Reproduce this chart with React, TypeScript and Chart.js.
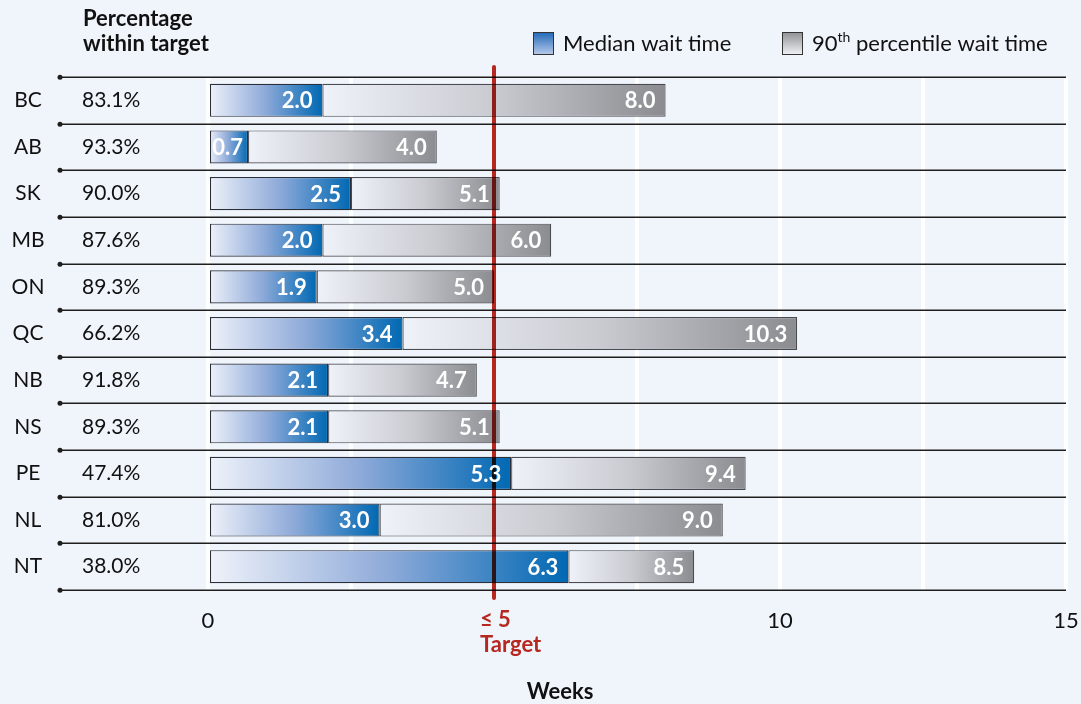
import React, { useEffect, useRef } from 'react';
import { Chart, registerables } from 'chart.js';

Chart.register(...registerables);

const provinces = ['BC', 'AB', 'SK', 'MB', 'ON', 'QC', 'NB', 'NS', 'PE', 'NL', 'NT'];
const pctWithinTarget = ['83.1%', '93.3%', '90.0%', '87.6%', '89.3%', '66.2%', '91.8%', '89.3%', '47.4%', '81.0%', '38.0%'];
const medianWait = [2.0, 0.7, 2.5, 2.0, 1.9, 3.4, 2.1, 2.1, 5.3, 3.0, 6.3];
const p90Wait = [8.0, 4.0, 5.1, 6.0, 5.0, 10.3, 4.7, 5.1, 9.4, 9.0, 8.5];
const xTickLabels = ['0', '10', '15'];
const targetWeeks = 5;
const legendLabels = ['Median wait time', '90', 'th', ' percentile wait time'];

const FONT = 'Lato, "Open Sans", sans-serif';
const BG = '#f0f4fb';
const FS = 22;

function blueGradient(c: CanvasRenderingContext2D, x0: number, x1: number) {
  const g = c.createLinearGradient(x0, 0, x1, 0);
  g.addColorStop(0, '#f0f3fa');
  g.addColorStop(0.5, '#8eaad9');
  g.addColorStop(1, '#0068b3');
  return g;
}
function grayGradient(c: CanvasRenderingContext2D, x0: number, x1: number) {
  const g = c.createLinearGradient(x0, 0, x1, 0);
  g.addColorStop(0, '#eff2f9');
  g.addColorStop(0.5, '#c9cbd1');
  g.addColorStop(1, '#8b8c90');
  return g;
}

const decorPlugin = {
  id: 'decor',
  beforeDatasetsDraw(chart: any) {
    const c: CanvasRenderingContext2D = chart.ctx;
    const { chartArea, scales } = chart;
    const y = scales.y;
    const n = provinces.length;
    const rowH = (chartArea.bottom - chartArea.top) / n;
    c.save();
    // row separators
    c.strokeStyle = '#1e1e1e';
    c.lineWidth = 1.5;
    c.fillStyle = '#1e1e1e';
    for (let i = 0; i <= n; i++) {
      const yy = Math.round(chartArea.top + i * rowH) + 0.25;
      c.beginPath();
      c.moveTo(60, yy);
      c.lineTo(chartArea.right, yy);
      c.stroke();
      c.beginPath();
      c.arc(60, yy, 2.5, 0, Math.PI * 2);
      c.fill();
    }
    // left labels
    c.fillStyle = '#111';
    c.font = `21px ${FONT}`;
    c.textBaseline = 'middle';
    provinces.forEach((p, i) => {
      const yy = y.getPixelForValue(i);
      c.textAlign = 'center';
      c.fillText(p, 28, yy);
      c.textAlign = 'left';
      c.fillText(pctWithinTarget[i], 82, yy);
    });
    // header
    c.font = `bold ${FS}px ${FONT}`;
    c.textAlign = 'left';
    c.fillText('Percentage', 83, 19);
    c.fillText('within target', 83, 44);
    // legend
    const sq = (x: number, top: number, kind: 'b' | 'g') => {
      const g = c.createLinearGradient(0, top, 0, top + 22);
      if (kind === 'b') {
        g.addColorStop(0, '#1f67b5');
        g.addColorStop(1, '#b4c7ea');
      } else {
        g.addColorStop(0, '#8f9094');
        g.addColorStop(1, '#eeeff3');
      }
      c.fillStyle = g;
      c.fillRect(x, top, 20, 22);
      c.strokeStyle = '#333';
      c.lineWidth = 1;
      c.strokeRect(x + 0.5, top + 0.5, 20, 22);
    };
    sq(533, 32, 'b');
    sq(782, 32, 'g');
    c.fillStyle = '#111';
    c.font = `${FS}px ${FONT}`;
    c.textBaseline = 'middle';
    c.fillText(legendLabels[0], 563, 44);
    let lx = 812;
    c.fillText(legendLabels[1], lx, 44);
    lx += c.measureText(legendLabels[1]).width;
    c.font = `14px ${FONT}`;
    c.fillText(legendLabels[2], lx, 37);
    lx += c.measureText(legendLabels[2]).width;
    c.font = `${FS}px ${FONT}`;
    c.fillText(legendLabels[3], lx, 44);
    c.restore();
  },
  afterDatasetsDraw(chart: any) {
    const c: CanvasRenderingContext2D = chart.ctx;
    const { chartArea, scales } = chart;
    const x = scales.x;
    c.save();
    // target line (multiply so it darkens over bars)
    const tx = x.getPixelForValue(targetWeeks);
    c.globalCompositeOperation = 'multiply';
    c.strokeStyle = '#b5271f';
    c.lineWidth = 4;
    c.lineCap = 'round';
    c.beginPath();
    c.moveTo(tx, chartArea.top - 10);
    c.lineTo(tx, chartArea.bottom + 8);
    c.stroke();
    c.globalCompositeOperation = 'source-over';
    // value labels
    c.fillStyle = '#ffffff';
    c.font = `bold ${FS}px ${FONT}`;
    c.textAlign = 'right';
    c.textBaseline = 'middle';
    chart.data.datasets.forEach((ds: any, di: number) => {
      const meta = chart.getDatasetMeta(di);
      meta.data.forEach((bar: any, i: number) => {
        const v = ds.data[i][1];
        const w = bar.x - bar.base;
        const pad = w < 50 ? 5 : 10;
        c.fillText(v.toFixed(1), bar.x - pad, bar.y + 1);
      });
    });
    // target tick label
    c.fillStyle = '#b5271f';
    c.font = `bold ${FS}px ${FONT}`;
    c.textAlign = 'left';
    c.fillText('\u2264 5', tx - 14, 620);
    c.fillText('Target', tx - 14, 645);
    // axis title
    c.fillStyle = '#111';
    c.textAlign = 'center';
    c.fillText('Weeks', 560, 692);
    c.restore();
  },
};

export default function App() {
  const ref = useRef<HTMLCanvasElement>(null);
  useEffect(() => {
    document.body.style.margin = '0';
    document.body.style.background = BG;
    const canvas = ref.current!;
    const chart = new Chart(canvas, {
      type: 'bar',
      data: {
        labels: provinces,
        datasets: [
          {
            label: 'Median wait time',
            data: medianWait.map((v) => [0, v]) as any,
            grouped: false,
            barPercentage: 0.71,
            categoryPercentage: 1,
            borderWidth: 1.2,
            borderColor: '#2a2f3a',
            borderSkipped: false,
            order: 1,
            backgroundColor: (ctx: any) => {
              const ch = ctx.chart;
              if (!ch.chartArea || ctx.type !== 'data') return '#0068b3';
              const r = ctx.raw as number[];
              return blueGradient(ch.ctx, ch.scales.x.getPixelForValue(r[0]), ch.scales.x.getPixelForValue(r[1]));
            },
          } as any,
          {
            label: '90th percentile wait time',
            data: p90Wait.map((v, i) => [medianWait[i], v]) as any,
            grouped: false,
            barPercentage: 0.71,
            categoryPercentage: 1,
            borderWidth: 1.2,
            borderColor: '#4a4b50',
            borderSkipped: false,
            order: 2,
            backgroundColor: (ctx: any) => {
              const ch = ctx.chart;
              if (!ch.chartArea || ctx.type !== 'data') return '#aaa';
              const r = ctx.raw as number[];
              return grayGradient(ch.ctx, ch.scales.x.getPixelForValue(r[0]), ch.scales.x.getPixelForValue(r[1]));
            },
          } as any,
        ],
      },
      options: {
        indexAxis: 'y',
        responsive: false,
        animation: false,
        layout: { padding: { left: 208, right: 15, top: 77, bottom: 0 } },
        plugins: { legend: { display: false }, tooltip: { enabled: false } },
        scales: {
          x: {
            type: 'linear',
            min: 0,
            max: 15,
            afterFit: (s: any) => {
              s.height = 114;
              s.paddingLeft = 0;
              s.paddingRight = 0;
            },
            border: { display: false },
            grid: { color: '#ffffff', lineWidth: 4, drawTicks: false },
            ticks: {
              stepSize: 2.5,
              padding: 18,
              color: '#111',
              font: { family: FONT, size: FS },
              callback: (v: any) => {
                const s = String(v);
                return xTickLabels.includes(s) ? s : '';
              },
            },
          },
          y: {
            type: 'category',
            display: false,
            offset: true,
          },
        },
      },
      plugins: [decorPlugin],
    });
    return () => chart.destroy();
  }, []);
  return (
    <div style={{ position: 'fixed', inset: 0, background: BG }}>
      <canvas ref={ref} width={1081} height={704} style={{ display: 'block' }} />
    </div>
  );
}
